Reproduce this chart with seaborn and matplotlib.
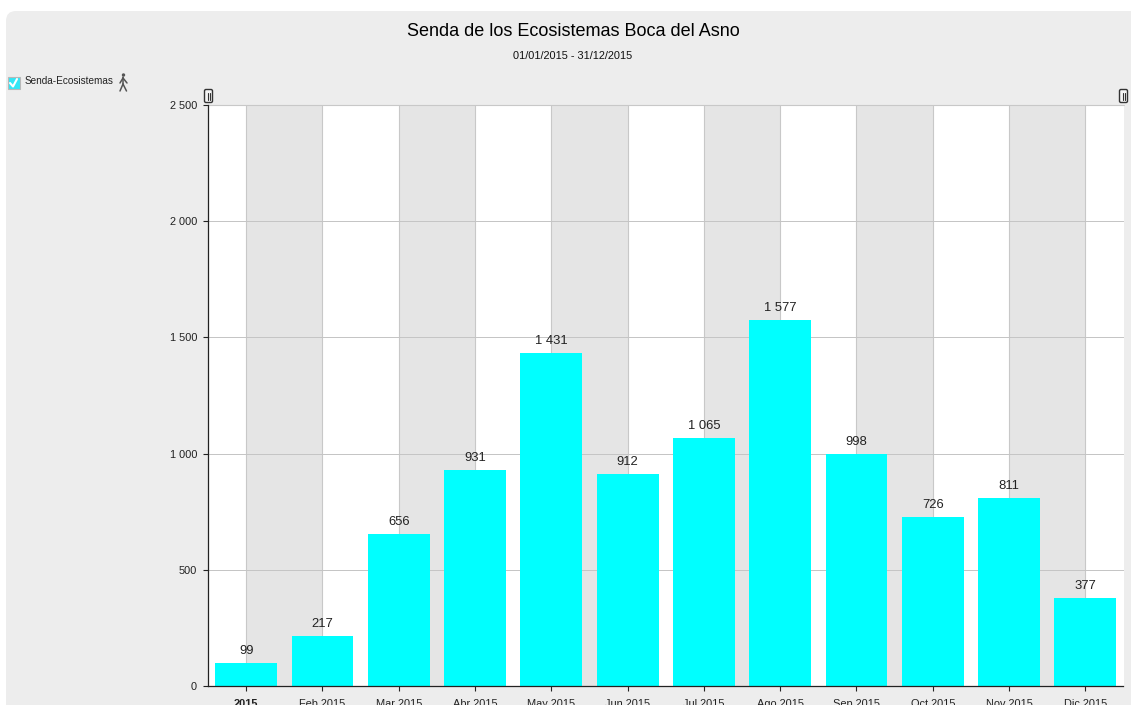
import matplotlib
matplotlib.use("Agg")
import matplotlib.pyplot as plt
import seaborn as sns
import pandas as pd
from matplotlib.patches import FancyBboxPatch, Rectangle, Circle
from matplotlib.lines import Line2D

months = ["2015", "Feb 2015", "Mar 2015", "Abr 2015", "May 2015", "Jun 2015",
          "Jul 2015", "Ago 2015", "Sep 2015", "Oct 2015", "Nov 2015", "Dic 2015"]
visits = [99, 217, 656, 931, 1431, 912, 1065, 1577, 998, 726, 811, 377]
yticks = [0, 500, 1000, 1500, 2000, 2500]
title = "Senda de los Ecosistemas Boca del Asno"
subtitle = "01/01/2015 - 31/12/2015"
legend_label = "Senda-Ecosistemas"

W, H = 1131, 705
sns.set_theme(style="white")
plt.rcParams["font.family"] = ["Liberation Sans", "DejaVu Sans"]
fs = lambda px: px * 72 / 100
pt = lambda px: px * 72 / 100
fx = lambda x: x / W
fy = lambda y: 1 - y / H

fig = plt.figure(figsize=(W / 100, H / 100), dpi=100, facecolor="white")
fig.patches.append(FancyBboxPatch((6, H - 760), 1160, 749, boxstyle="round,pad=0,rounding_size=10",
                                  transform=None, fc="#EDEDED", ec="none", zorder=-5))

ax = fig.add_axes([fx(208), fy(686), (1123.5 - 208) / W, (686 - 105) / H])
ax.set_facecolor("white")
df = pd.DataFrame({"mes": months, "visitas": visits})
sns.barplot(data=df, x="mes", y="visitas", color="#00FFFF", saturation=1, width=0.81,
            linewidth=0, edgecolor="none", ax=ax, zorder=3)
for i in range(len(months)):
    if i % 2 == 0:
        ax.axvspan(i, i + 1, color="#E5E5E5", lw=0, zorder=0)
    ax.axvline(i, color="#C8C8C8", lw=0.8, zorder=1)
ax.set_xlim(-0.5, len(months) - 0.5)
ax.set_ylim(0, 2500)
ax.set_yticks(yticks)
ax.set_yticklabels([f"{v:,}".replace(",", " ") for v in yticks], fontsize=fs(11), color="#222222")
ax.yaxis.grid(True, color="#C4C4C4", lw=0.7, zorder=2)
ax.set_axisbelow(False)
ax.xaxis.grid(False)
ax.set_xlabel("")
ax.set_ylabel("")
ax.tick_params(axis="y", left=True, length=pt(5), width=0.8, color="#222222", pad=pt(6))
ax.tick_params(axis="x", bottom=True, length=pt(5), width=0.8, color="#222222", pad=pt(8))
ax.set_xticks(range(len(months)))
ax.set_xticklabels(months, fontsize=fs(11), color="#222222")
ax.get_xticklabels()[0].set_fontweight("bold")
for s in ["top", "right"]:
    ax.spines[s].set_visible(False)
for s in ["left", "bottom"]:
    ax.spines[s].set_color("#222222")
    ax.spines[s].set_linewidth(0.9)
    ax.spines[s].set_zorder(6)
ax.plot([0, 1], [1, 1], transform=ax.transAxes, color="#C8C8C8", lw=0.8, clip_on=False, zorder=5)

for i, v in enumerate(visits):
    ax.annotate(f"{v:,}".replace(",", " "), (i, v), xytext=(0, pt(6)), textcoords="offset points",
                ha="center", va="bottom", fontsize=fs(13), color="#222222", zorder=7)

fig.text(fx(573), fy(31), title, ha="center", va="center", fontsize=fs(17.95), color="black")
fig.text(fx(573), fy(56), subtitle, ha="center", va="center", fontsize=fs(11), color="#111111")

# Legend: checkbox, label and walker icon
fig.patches.append(Rectangle((7.5, H - 89), 12, 12, transform=None, fc="#33E6F5", ec="#B8B8B8", lw=0.8))
fig.add_artist(Line2D([fx(10), fx(13), fx(17)], [fy(83), fy(86.5), fy(79)], color="white", lw=1.5))
fig.text(fx(25), fy(81.5), legend_label, ha="left", va="center", fontsize=fs(10), color="#222222")
icon = "#555555"
fig.patches.append(Circle((123.5, H - 75), 1.7, transform=None, fc=icon, ec="none"))
for xs, ys in [([123, 123], [77, 84]), ([123, 120], [84, 91]), ([123, 126.5], [84, 91]),
               ([123, 120], [78, 83]), ([123, 127], [78, 83])]:
    fig.add_artist(Line2D([fx(x) for x in xs], [fy(y) for y in ys], color=icon, lw=1.1))

# Range-slider handles
for hx in (208.5, 1123.5):
    fig.patches.append(FancyBboxPatch((hx - 4, H - 102.5), 8, 13, boxstyle="round,pad=0,rounding_size=1.5",
                                      transform=None, fc="#F5F5F5", ec="#333333", lw=1))
    for d in (-1, 1):
        fig.add_artist(Line2D([fx(hx + d)] * 2, [fy(92.5), fy(99.5)], color="#333333", lw=0.8))

fig.savefig("out.png", dpi=100, facecolor="white")
